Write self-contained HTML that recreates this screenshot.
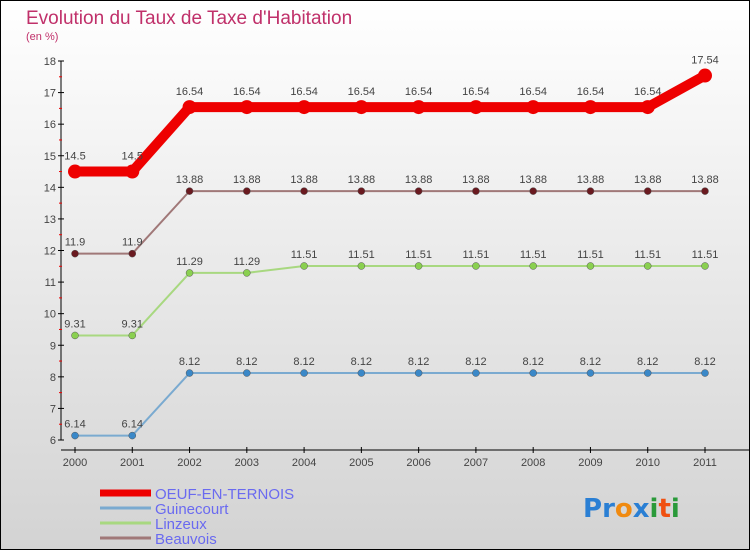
<!DOCTYPE html>
<html><head><meta charset="utf-8"><style>
body{margin:0;}
#wrap{width:750px;height:550px;position:relative;overflow:hidden;}
svg{position:absolute;left:0;top:0;}
</style></head><body>
<div id="wrap">
<svg id="chart" width="750" height="550" xmlns="http://www.w3.org/2000/svg">
<defs><linearGradient id="bg" x1="0" y1="0" x2="0" y2="1"><stop offset="0" stop-color="#ffffff"/><stop offset="1" stop-color="#d3d3d3"/></linearGradient></defs>
<rect x="0.5" y="0.5" width="749" height="549" fill="url(#bg)" stroke="#000"/>
<text x="26" y="24" font-family="Liberation Sans, sans-serif" font-size="19" fill="#c0306a">Evolution du Taux de Taxe d'Habitation</text>
<text x="26" y="40" font-family="Liberation Sans, sans-serif" font-size="11" fill="#c0306a">(en %)</text>
<g id="axes"></g><g id="series"></g><g id="legend"></g>
<text x="583" y="517" font-family="DejaVu Sans, sans-serif" font-size="26" font-weight="bold"><tspan fill="#2a7fd4">P</tspan><tspan fill="#2a7fd4">r</tspan><tspan fill="#f08a10">o</tspan><tspan fill="#2a7fd4">x</tspan><tspan fill="#2a9a3a">i</tspan><tspan fill="#f05010">t</tspan><tspan fill="#2a9a3a">i</tspan></text>
</svg></div>
<script>
const years=[2000,2001,2002,2003,2004,2005,2006,2007,2008,2009,2010,2011];
const oeuf=[14.5,14.5,16.54,16.54,16.54,16.54,16.54,16.54,16.54,16.54,16.54,17.54];
const guinecourt=[6.14,6.14,8.12,8.12,8.12,8.12,8.12,8.12,8.12,8.12,8.12,8.12];
const linzeux=[9.31,9.31,11.29,11.29,11.51,11.51,11.51,11.51,11.51,11.51,11.51,11.51];
const beauvois=[11.9,11.9,13.88,13.88,13.88,13.88,13.88,13.88,13.88,13.88,13.88,13.88];
const yTicks=[6,7,8,9,10,11,12,13,14,15,16,17,18];
const NS='http://www.w3.org/2000/svg';
const x=i=>75+i*(630/11);
const y=v=>440-(v-6)*(379/12);
function mk(tag,attrs,parent){const e=document.createElementNS(NS,tag);for(const k in attrs)e.setAttribute(k,attrs[k]);parent.appendChild(e);return e;}
const axes=document.getElementById('axes');
let e=mk('line',{x1:61,y1:61,x2:61,y2:440,stroke:'#000','stroke-width':1},axes);


e=mk('line',{x1:61,y1:450,x2:750,y2:450,stroke:'#000','stroke-width':1},axes);


yTicks.forEach(t=>{
  mk('line',{x1:58,y1:y(t),x2:64,y2:y(t),stroke:'#000'},axes);
  if(t<18){mk('line',{x1:59,y1:y(t+0.5),x2:62,y2:y(t+0.5),stroke:'#e00'},axes);}
  const tx=mk('text',{x:56,y:y(t)+4,'text-anchor':'end','font-family':'Liberation Sans, sans-serif','font-size':11,fill:'#444'},axes);
  tx.textContent=t;
  
  
});
years.forEach((yr,i)=>{
  mk('line',{x1:x(i),y1:447,x2:x(i),y2:453,stroke:'#000'},axes);
  const tx=mk('text',{x:x(i),y:466,'text-anchor':'middle','font-family':'Liberation Sans, sans-serif','font-size':11,fill:'#444'},axes);
  tx.textContent=yr;
  
  
});
const sg=document.getElementById('series');
const defs=[
 {name:'guinecourt',data:guinecourt,color:'#7aaad0',dot:'#3a88c8',w:2,r:3.5},
 {name:'linzeux',data:linzeux,color:'#a8d880',dot:'#8ad050',w:2,r:3.5},
 {name:'beauvois',data:beauvois,color:'#a07878',dot:'#6a1a20',w:2,r:3.5},
 {name:'oeuf-en-ternois',data:oeuf,color:'#ee0000',dot:'#ee0000',w:10,r:7}
];
defs.forEach(s=>{
  const g=mk('g',{},sg);
  
  
  const p=mk('polyline',{points:s.data.map((v,i)=>x(i)+','+y(v)).join(' '),fill:'none',stroke:s.color,'stroke-width':s.w,'stroke-linejoin':'round'},g);
  
  
  s.data.forEach((v,i)=>{
    const c=mk('circle',{cx:x(i),cy:y(v),r:s.r,fill:s.dot,stroke:s.w>2?'none':'#555','stroke-width':0.5},g);
    
    
    const t=mk('text',{x:x(i),y:y(v)-(s.w>2?12:8),'text-anchor':'middle','font-family':'Liberation Sans, sans-serif','font-size':11,fill:'#444'},g);
    t.textContent=v;
    
    
  });
});
const lg=document.getElementById('legend');
const leg=[['OEUF-EN-TERNOIS','#ee0000',7],['Guinecourt','#7aaad0',3],['Linzeux','#a8d880',3],['Beauvois','#a07878',3]];
leg.forEach((l,i)=>{
  const yy=493+i*15;
  const g=mk('g',{},lg);
  
  
  mk('line',{x1:100,y1:yy,x2:151,y2:yy,stroke:l[1],'stroke-width':l[2]},g);
  const t=mk('text',{x:155,y:yy+6,'font-family':'Liberation Sans, sans-serif','font-size':15,fill:'#6a6af0'},g);
  t.textContent=l[0];
});
</script>
</body></html>
